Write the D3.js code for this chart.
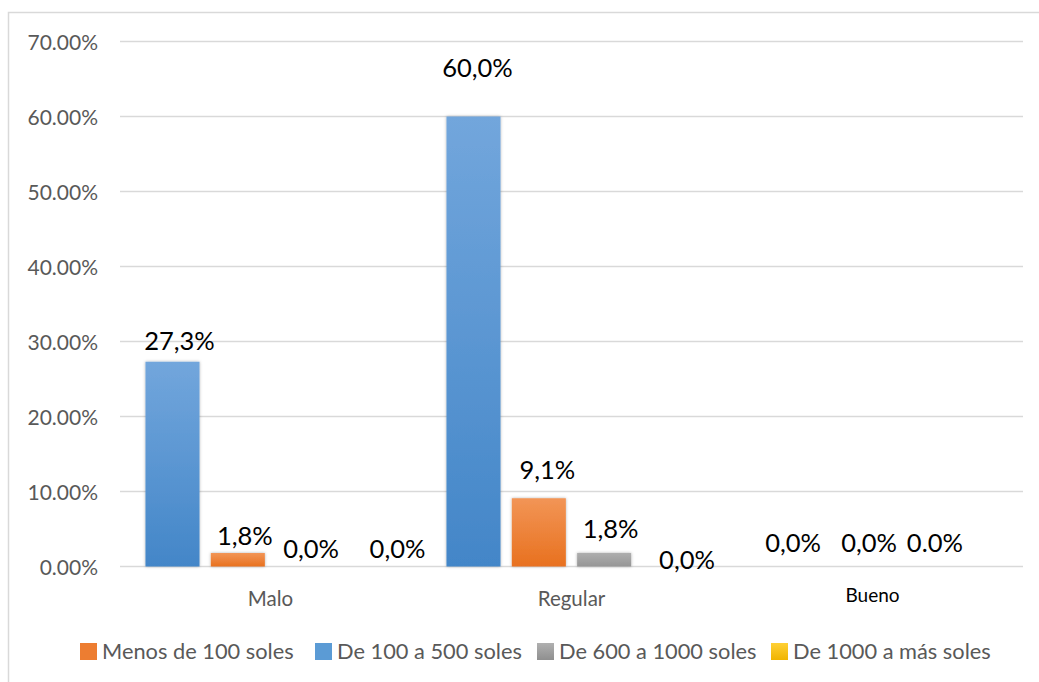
<!DOCTYPE html>
<html>
<head>
<meta charset="utf-8">
<script src="https://cdn.jsdelivr.net/npm/d3@7"></script>
<style>
  html, body { margin: 0; padding: 0; background: #fff; }
  svg { display: block; }
  text { font-family: Lato, "Noto Sans", sans-serif; }
</style>
</head>
<body>
<svg id="chart" width="1039" height="682"></svg>
<script>
// Ingreso mensual por nivel de calificación (%)
const categories = ["Malo", "Regular", "Bueno"];
const seriesNames = ["Menos de 100 soles", "De 100 a 500 soles", "De 600 a 1000 soles", "De 1000 a más soles"];
const menos100   = [1.8, 9.1, 0];
const de100a500  = [27.3, 60.0, 0];
const de600a1000 = [0, 1.8, 0];
const de1000mas  = [0, 0, 0];
const menos100Labels   = ["1,8%", "9,1%", "0,0%"];
const de100a500Labels  = ["27,3%", "60,0%", "0,0%"];
const de600a1000Labels = ["0,0%", "1,8%", "0.0%"];
const de1000masLabels  = ["0,0%", "0,0%", null];
const yTickValues = [0, 10, 20, 30, 40, 50, 60, 70];

const seriesValues = [menos100, de100a500, de600a1000, de1000mas];
const seriesLabels = [menos100Labels, de100a500Labels, de600a1000Labels, de1000masLabels];
// bars are drawn blue, orange, gray, yellow within each group
const barOrder = [1, 0, 2, 3];

const svg = d3.select("#chart");
const plot = { left: 120, right: 1023, top: 41.5, bottom: 566.5 };

// gradients and shadow
const defs = svg.append("defs");
const grads = [
  ["gOrange", "#F29556", "#E8711F"],
  ["gBlue", "#72A6DC", "#4386C8"],
  ["gGray", "#AEAEAE", "#959595"],
  ["gYellow", "#FFCB2E", "#F2B400"],
  ["lOrange", "#ED7D31", "#ED7D31"],
  ["lBlue", "#5B9BD5", "#5B9BD5"],
  ["lGray", "#B0B0B0", "#8F8F8F"],
  ["lYellow", "#FFD035", "#F0B400"]
];
grads.forEach(([id, c0, c1]) => {
  const g = defs.append("linearGradient").attr("id", id)
    .attr("x1", 0).attr("y1", 0).attr("x2", 0).attr("y2", 1);
  g.append("stop").attr("offset", "0%").attr("stop-color", c0);
  g.append("stop").attr("offset", "100%").attr("stop-color", c1);
});
const shadow = defs.append("filter").attr("id", "barShadow")
  .attr("x", "-20%").attr("y", "-20%").attr("width", "140%").attr("height", "140%");
shadow.append("feDropShadow").attr("dx", 0).attr("dy", 0)
  .attr("stdDeviation", 1.6).attr("flood-color", "#000").attr("flood-opacity", 0.3);

const fillIds = ["url(#gOrange)", "url(#gBlue)", "url(#gGray)", "url(#gYellow)"];
const legendFills = ["url(#lOrange)", "url(#lBlue)", "url(#lGray)", "url(#lYellow)"];

// outer frame
svg.append("rect")
  .attr("x", 8.5).attr("y", 12.5).attr("width", 1040).attr("height", 700)
  .attr("fill", "none").attr("stroke", "#D9D9D9").attr("stroke-width", 1.5);

// scales
const x0 = d3.scaleBand().domain(categories).range([plot.left, plot.right]).padding(0);
const x1 = d3.scaleBand().domain(barOrder).range([0, x0.bandwidth()])
  .paddingInner(0.173).paddingOuter(0.39);
const y = d3.scaleLinear().domain([0, 70]).range([plot.bottom, plot.top]);

// gridlines
svg.append("g").selectAll("line").data(yTickValues).join("line")
  .attr("x1", plot.left).attr("x2", plot.right)
  .attr("y1", d => y(d)).attr("y2", d => y(d))
  .attr("stroke", "#D9D9D9").attr("stroke-width", 1.5);

// y axis labels
const yAxis = d3.axisLeft(y).tickValues(yTickValues)
  .tickFormat(d => d3.format(".2f")(d) + "%").tickSize(0).tickPadding(0);
const gy = svg.append("g").attr("transform", `translate(98,0)`).call(yAxis);
gy.select(".domain").remove();
gy.selectAll("text")
  .attr("font-family", "Lato, sans-serif").attr("font-size", 21)
  .attr("fill", "#595959").attr("dy", "0.36em");

// bars
const groups = svg.append("g").selectAll("g").data(categories).join("g")
  .attr("transform", d => `translate(${x0(d)},0)`);

groups.each(function(cat, ci) {
  const g = d3.select(this);
  barOrder.forEach(si => {
    const v = seriesValues[si][ci];
    if (v > 0) {
      g.append("rect")
        .attr("x", x1(si)).attr("width", x1.bandwidth())
        .attr("y", y(v)).attr("height", y(0) - y(v))
        .attr("fill", fillIds[si]).attr("filter", "url(#barShadow)");
    }
  });
});

// data labels, nudged from the top centre of each bar
const labelNudge = {
  "0-1": [7, -12], "0-0": [7, -8], "0-2": [8, -8.5], "0-3": [29, -8.5],
  "1-1": [4, -40], "1-0": [8.5, -19], "1-2": [6.5, -15], "1-3": [17.5, 2.5],
  "2-1": [18.6, -15], "2-0": [29.3, -15], "2-2": [29.7, -15]
};
categories.forEach((cat, ci) => {
  barOrder.forEach(si => {
    const txt = seriesLabels[si][ci];
    if (!txt) return;
    const v = seriesValues[si][ci];
    const cx = x0(cat) + x1(si) + x1.bandwidth() / 2;
    const [dx, dy] = labelNudge[`${ci}-${si}`] || [0, -8];
    svg.append("text")
      .attr("x", cx + dx).attr("y", y(v) + dy)
      .attr("text-anchor", "middle")
      .attr("font-size", 25.5).attr("fill", "#000")
      .text(txt);
  });
});

// category axis
const xAxis = d3.axisBottom(x0).tickSize(0).tickPadding(0);
const gx = svg.append("g").attr("transform", `translate(0,${plot.bottom})`).call(xAxis);
gx.select(".domain").remove();
gx.selectAll("text")
  .attr("font-family", "Lato, sans-serif")
  .attr("font-size", d => d === "Bueno" ? 19 : 20.5)
  .attr("fill", d => d === "Bueno" ? "#000" : "#595959")
  .attr("dy", null)
  .attr("y", d => d === "Bueno" ? 35 : 39);

// legend
const legendX = [80, 315, 537, 771];
const legend = svg.append("g").selectAll("g").data(seriesNames).join("g")
  .attr("transform", (d, i) => `translate(${legendX[i]},643)`);
legend.append("rect").attr("width", 17).attr("height", 17)
  .attr("fill", (d, i) => legendFills[i]);
legend.append("text").attr("x", 22).attr("y", 16)
  .attr("font-size", 21.8).attr("fill", "#595959")
  .text(d => d);
</script>
</body>
</html>
